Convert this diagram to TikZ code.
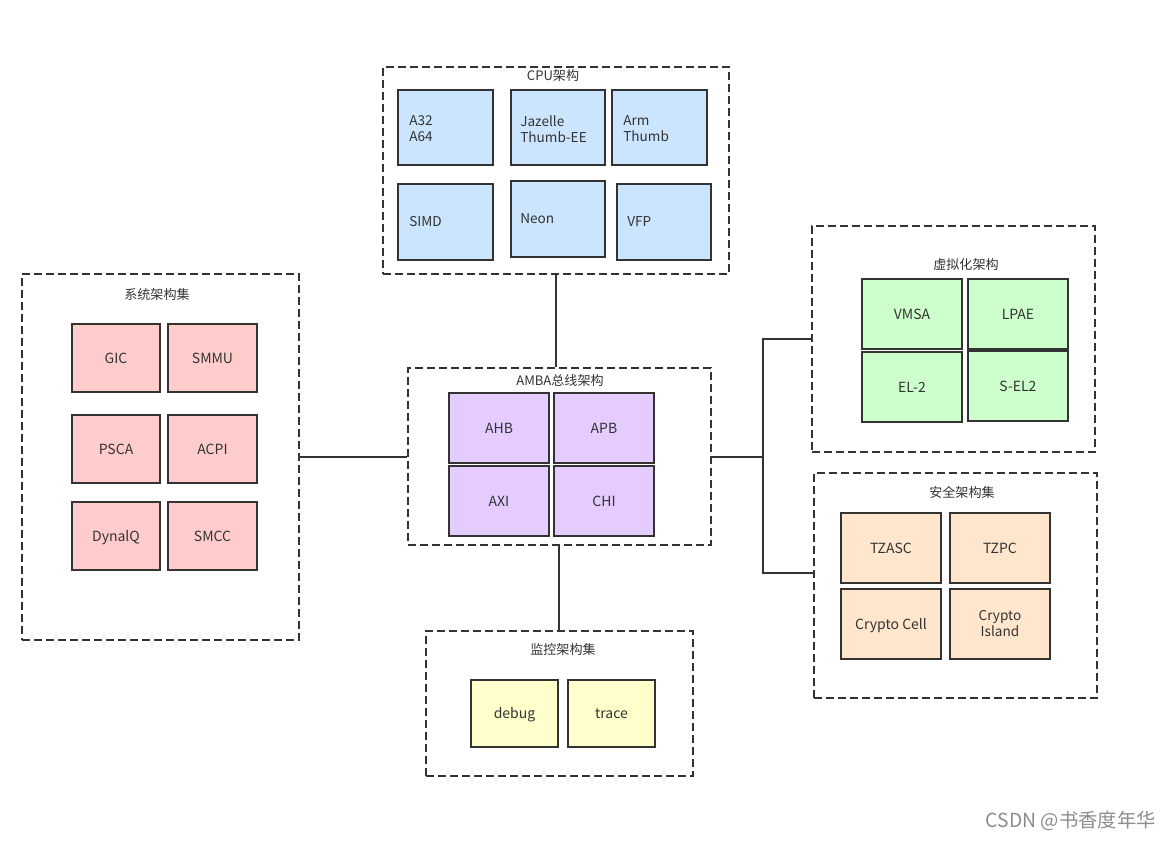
\documentclass[tikz,border=0pt]{standalone}
\usepackage{fontspec}
\setmainfont{Noto Sans CJK SC}
\usetikzlibrary{fit}
\definecolor{edge}{HTML}{333333}
\definecolor{txt}{HTML}{333333}
\definecolor{cblue}{HTML}{CCE5FF}
\definecolor{cred}{HTML}{FFCCCC}
\definecolor{cpurple}{HTML}{E5CCFF}
\definecolor{cgreen}{HTML}{CCFFCC}
\definecolor{corange}{HTML}{FFE6CC}
\definecolor{cyellow}{HTML}{FFFFCC}
\newcommand{\cboxtxt}[1]{\raisebox{-3.85pt}[0pt][0pt]{#1}}
\newcommand{\ctitletxt}[1]{\raisebox{-3.4pt}[0pt][0pt]{#1}}
\tikzset{
  group/.style={draw=edge, line width=1.1pt, dash pattern=on 6pt off 3pt, inner sep=0pt},
  item/.style={draw=edge, line width=1.4pt, inner sep=0pt, text=txt, font=\fontsize{10.5}{12}\selectfont},
  title/.style={text=txt, font=\fontsize{9.8}{11}\selectfont, inner sep=0pt},
  ltext/.style={text=txt, font=\fontsize{10.2}{12}\selectfont, align=left, anchor=west, inner sep=0pt},
  wire/.style={draw=edge, line width=1.1pt},
}
\begin{document}
\begin{tikzpicture}[x=0.75pt,y=-0.75pt]
\useasboundingbox (0,0) rectangle (1172,840);
% ---------- CPU ----------
\node[group, fit={(383,67) (729,274)}] (cpu) {};
\node[title] (cput) at (553,76) {\ctitletxt{CPU架构}};
\node[item, fill=cblue, fit={(398,90) (493,165)}] (a32) {};
\node[item, fill=cblue, fit={(511,90) (605,165)}] (jaz) {};
\node[item, fill=cblue, fit={(612,90) (707,165)}] (arm) {};
\node[item, fill=cblue, fit={(398,184) (493,260)}] (simd) {};
\node[item, fill=cblue, fit={(511,181) (605,257)}] (neon) {};
\node[item, fill=cblue, fit={(617,184) (711,260)}] (vfp) {};
\node[ltext] (a32t) at (409,129) {A32\\A64};
\node[ltext] (jazt) at (520,129) {Jazelle\\Thumb-EE};
\node[ltext] (armt) at (623,129) {Arm\\Thumb};
\node[ltext] (simdt) at (409,222) {SIMD};
\node[ltext] (neont) at (520,219) {Neon};
\node[ltext] (vfpt) at (627,222) {VFP};
% ---------- System ----------
\node[group, fit={(22,274) (299,640)}] (sys) {};
\node[title] (syst) at (157,295) {\ctitletxt{系统架构集}};
\node[item, fill=cred, fit={(72,324) (160,392)}] (gic) {\cboxtxt{GIC}};
\node[item, fill=cred, fit={(168,324) (257,392)}] (smmu) {\cboxtxt{SMMU}};
\node[item, fill=cred, fit={(72,415) (160,483)}] (psca) {\cboxtxt{PSCA}};
\node[item, fill=cred, fit={(168,415) (257,483)}] (acpi) {\cboxtxt{ACPI}};
\node[item, fill=cred, fit={(72,502) (160,570)}] (dyn) {\cboxtxt{DynalQ}};
\node[item, fill=cred, fit={(168,502) (257,570)}] (smcc) {\cboxtxt{SMCC}};
% ---------- AMBA ----------
\node[group, fit={(408,368) (711,545)}] (amba) {};
\node[title] (ambat) at (560,381) {\ctitletxt{AMBA总线架构}};
\node[item, fill=cpurple, fit={(449,393) (549,463)}] (ahb) {\cboxtxt{AHB}};
\node[item, fill=cpurple, fit={(554,393) (654,463)}] (apb) {\cboxtxt{APB}};
\node[item, fill=cpurple, fit={(449,466) (549,536)}] (axi) {\cboxtxt{AXI}};
\node[item, fill=cpurple, fit={(554,466) (654,536)}] (chi) {\cboxtxt{CHI}};
% ---------- Virtualization ----------
\node[group, fit={(812,226) (1095,452)}] (virt) {};
\node[title] (virtt) at (966,265) {\ctitletxt{虚拟化架构}};
\node[item, fill=cgreen, fit={(862,279) (962,349)}] (vmsa) {\cboxtxt{VMSA}};
\node[item, fill=cgreen, fit={(968,279) (1068,349)}] (lpae) {\cboxtxt{LPAE}};
\node[item, fill=cgreen, fit={(862,352) (962,422)}] (el2) {\cboxtxt{EL-2}};
\node[item, fill=cgreen, fit={(968,351) (1068,421)}] (sel2) {\cboxtxt{S-EL2}};
% ---------- Security ----------
\node[group, fit={(814,473) (1097,698)}] (sec) {};
\node[title] (sect) at (962,493) {\ctitletxt{安全架构集}};
\node[item, fill=corange, fit={(841,513) (941,583)}] (tzasc) {\cboxtxt{TZASC}};
\node[item, fill=corange, fit={(950,513) (1050,583)}] (tzpc) {\cboxtxt{TZPC}};
\node[item, fill=corange, fit={(841,589) (941,659)}] (ccell) {\cboxtxt{Crypto Cell}};
\node[item, fill=corange, fit={(950,589) (1050,659)}] (cisl) {};
\node[ltext, anchor=center, align=center] (cislt) at (1000,624) {Crypto\\Island};
% ---------- Monitor ----------
\node[group, fit={(426,631) (693,776)}] (mon) {};
\node[title] (mont) at (563,650) {\ctitletxt{监控架构集}};
\node[item, fill=cyellow, fit={(471,680) (558,747)}] (debug) {\cboxtxt{debug}};
\node[item, fill=cyellow, fit={(568,680) (655,747)}] (trace) {\cboxtxt{trace}};
% ---------- Connectors ----------
\coordinate (j1) at (763,457);
\draw[wire] (cpu.south -| 556,0) -- (amba.north -| 556,0);
\draw[wire] (sys.east |- 0,457) -- (amba.west |- 0,457);
\draw[wire] (amba.south -| 559,0) -- (mon.north -| 559,0);
\draw[wire] (amba.east |- j1) -- (j1) |- (virt.west |- 0,339);
\draw[wire] (j1) |- (sec.west |- 0,573);
% ---------- Watermark ----------
\node[text=black!45, font=\fontsize{14.5}{16}\selectfont, anchor=east, inner sep=0pt] (wm) at (1156,821) {CSDN @书香度年华};
\end{tikzpicture}
\end{document}
